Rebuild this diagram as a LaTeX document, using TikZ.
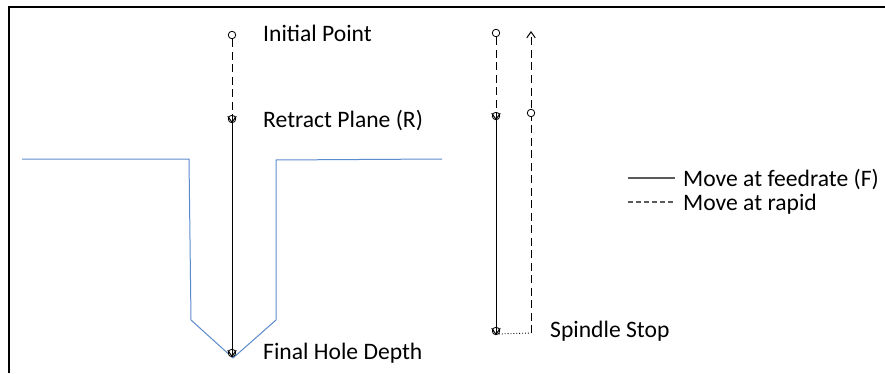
\documentclass[tikz,border=0pt]{standalone}
\usepackage{fontspec}
\setmainfont{Carlito}
\usetikzlibrary{arrows.meta}
\definecolor{holeblue}{RGB}{91,138,205}
\definecolor{leggray}{RGB}{90,90,90}
\tikzset{
  marker/.style={circle,draw,fill=white,inner sep=0pt,minimum size=7.5pt,line width=0.8pt},
  lbl/.style={anchor=base west,inner sep=0pt,font=\fontsize{23.6}{28}\selectfont},
  rapid/.style={line width=0.95pt,dash pattern=on 8pt off 4.5pt},
  feed/.style={line width=0.95pt},
  tip/.style={-{Straight Barb[length=6pt,width=8.5pt,line width=1pt]}},
}
\begin{document}
\begin{tikzpicture}[x=1pt,y=1pt]
\useasboundingbox (0,0) rectangle (885,373);
% frame (top and left edges visible)
\draw[line width=2.2pt] (9,0) -- (9,366) -- (885,366);
% hole profile
\draw[holeblue,line width=1pt,line join=miter]
  (22,214) -- (189,214) -- (191,53) -- (233,15) -- (276,53) -- (276,213) -- (442,214);
% markers
\node[marker] (ip) at (232,338) {};
\node[marker] (rp) at (232,254) {};
\node[marker] (fd) at (232,20) {};
\node[marker] (lt) at (496,340) {};
\node[marker] (lm) at (496,257) {};
\node[marker] (lb) at (496,42) {};
\coordinate (rt) at (531,342);
\coordinate (rb) at (531,40);
% main path
\draw[rapid,tip] (ip) -- (rp.south);
\draw[feed,tip] (rp) -- (fd.south);
% right cycle
\draw[rapid,tip] (lt) -- (lm.south);
\draw[feed,tip] (lm) -- (lb.south);
\draw[line width=0.9pt,dotted] (lb.south east) -- (rb);
\draw[rapid,tip] (rb) -- (rt);
\node[marker] (rm) at (531,260) {};
% labels
\node[lbl] (tip1) at (263,331) {Initial Point};
\node[lbl] (tr) at (263,246) {Retract Plane (R)};
\node[lbl] (tf) at (263,14) {Final Hole Depth};
\node[lbl] (ts) at (550,36) {Spindle Stop};
% legend
\coordinate (fa) at (628,195);
\coordinate (fb) at (675,195);
\coordinate (ra) at (628,171);
\coordinate (rb2) at (675,171);
\draw[leggray,line width=1.3pt] (fa) -- (fb);
\draw[leggray,line width=1.3pt,dash pattern=on 5pt off 3pt] (ra) -- (rb2);
\node[lbl] (lf) at (683,187) {Move at feedrate (F)};
\node[lbl] (lr) at (683,163) {Move at rapid};
\end{tikzpicture}
\end{document}
